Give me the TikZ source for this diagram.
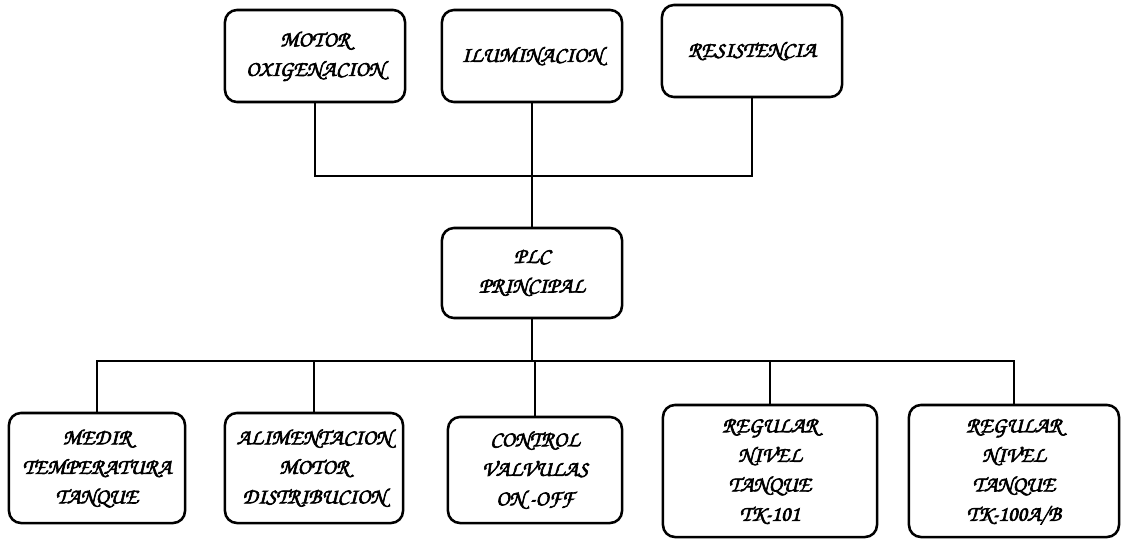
\documentclass[tikz,border=0pt]{standalone}
\usepackage[T1]{fontenc}
\usepackage{tikz}
\usetikzlibrary{positioning}
\newcommand{\scripttext}{\fontfamily{pzc}\fontseries{mb}\fontshape{it}\fontsize{15.5}{21}\selectfont}
\newcommand{\heavyon}{\special{pdf:literal direct 2 Tr 0.45 w}}
\newcommand{\heavyoff}{\special{pdf:literal direct 0 Tr}}
\tikzset{
  mybox/.style={
    draw=black,
    shape=rectangle,
    line width=1.8pt,
    rounded corners=0.3cm,
    align=center,
    inner sep=2pt,
    font=\scripttext\heavyon,
    execute at end node=\heavyoff
  },
  myline/.style={
    draw=black,
    line width=1.6pt,
  }
}

\begin{document}
\begin{tikzpicture}[x=0.025cm, y=-0.025cm]
    \useasboundingbox (0,0) rectangle (1121,540);

    % upper level
    \node [mybox, minimum width=4.5cm, minimum height=2.3cm] (motor) at (315, 56) {MOTOR\\OXIGENACION};
    \node [mybox, minimum width=4.5cm, minimum height=2.3cm] (ilum) at (532, 56) {ILUMINACION};
    \node [mybox, minimum width=4.5cm, minimum height=2.3cm] (resist) at (752, 51) {RESISTENCIA};
    \coordinate (topbus) at (0, 176);
    \draw [myline] (motor.south) -- (motor.south |- topbus) -- (resist.south |- topbus) -- (resist.south);

    \node [mybox, minimum width=4.5cm, minimum height=2.25cm] (plc) at (532, 273) {PLC\\PRINCIPAL};
    \draw [myline] (ilum.south) -- (plc.north);

    % lower level
    \node [mybox, minimum width=4.4cm, minimum height=2.75cm] (medir) at (97, 468) {MEDIR\\TEMPERATURA\\TANQUE};
    \node [mybox, minimum width=4.45cm, minimum height=2.75cm] (alim) at (314, 468) {ALIMENTACION\\MOTOR\\DISTRIBUCION};
    \node [mybox, minimum width=4.35cm, minimum height=2.65cm] (control) at (535, 470) {CONTROL\\VALVULAS\\ON -OFF};
    \node [mybox, minimum width=5.35cm, minimum height=3.3cm] (reg1) at (770, 471) {REGULAR\\NIVEL\\TANQUE\\TK-101};
    \node [mybox, minimum width=5.25cm, minimum height=3.3cm] (reg2) at (1014, 471) {REGULAR\\NIVEL\\TANQUE\\TK-100A/B};
    \coordinate (lowbus) at (0, 361);
    \draw [myline] (plc.south) -- (plc.south |- lowbus);
    \draw [myline] (medir.north) -- (medir.north |- lowbus) -- (reg2.north |- lowbus) -- (reg2.north);
    \draw [myline] (alim.north) -- (alim.north |- lowbus);
    \draw [myline] (control.north) -- (control.north |- lowbus);
    \draw [myline] (reg1.north) -- (reg1.north |- lowbus);

\end{tikzpicture}
\end{document}
